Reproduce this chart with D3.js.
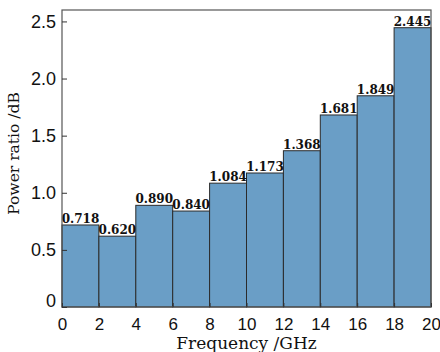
<!DOCTYPE html>
<html>
<head>
<meta charset="utf-8">
<script src="https://cdn.jsdelivr.net/npm/d3@7"></script>
<style>
  body { margin: 0; background: #fff; }
  svg { display: block; }
</style>
</head>
<body>
<svg id="chart" width="440" height="352"></svg>
<script>
const binStarts = [0, 2, 4, 6, 8, 10, 12, 14, 16, 18]
const binWidth = 2
const powerRatio = [0.718, 0.620, 0.890, 0.840, 1.084, 1.173, 1.368, 1.681, 1.849, 2.445]
const xTicks = [0, 2, 4, 6, 8, 10, 12, 14, 16, 18, 20]
const yTicks = [0, 0.5, 1.0, 1.5, 2.0, 2.5]

const data = binStarts.map((s, i) => ({ x0: s, x1: s + binWidth, v: powerRatio[i] }))

const margin = { top: 10, right: 9, bottom: 45, left: 62 }
const width = 440, height = 352
const svg = d3.select('#chart')
  .style('font-family', '"DejaVu Serif", "Liberation Serif", serif')

const x = d3.scaleLinear().domain([0, 20]).range([margin.left, width - margin.right])
const y = d3.scaleLinear().domain([0, 2.6]).range([height - margin.bottom, margin.top])

// bars
svg.append('g')
  .selectAll('rect')
  .data(data)
  .join('rect')
  .attr('x', d => x(d.x0))
  .attr('width', d => x(d.x1) - x(d.x0))
  .attr('y', d => y(d.v))
  .attr('height', d => y(0) - y(d.v))
  .attr('fill', '#6a9ec6')
  .attr('stroke', '#2b2b2b')
  .attr('stroke-width', 1)

// value labels
svg.append('g')
  .selectAll('text')
  .data(data)
  .join('text')
  .attr('x', d => (x(d.x0) + x(d.x1)) / 2)
  .attr('y', d => y(d.v) - 2)
  .attr('text-anchor', 'middle')
  .attr('font-size', 12)
  .attr('font-weight', 'bold')
  .attr('fill', '#111')
  .text(d => d3.format('.3f')(d.v))

// frame
svg.append('rect')
  .attr('x', x(0)).attr('y', y(2.6))
  .attr('width', x(20) - x(0)).attr('height', y(0) - y(2.6))
  .attr('fill', 'none').attr('stroke', '#555').attr('stroke-width', 1.2)

// x axis (inward ticks)
const xAxis = svg.append('g')
  .attr('transform', `translate(0,${y(0)})`)
  .call(d3.axisBottom(x).tickValues(xTicks).tickSizeInner(-4).tickSizeOuter(0).tickPadding(11).tickFormat(d3.format('d')))
xAxis.select('.domain').remove()
xAxis.selectAll('line').attr('stroke', '#333')
xAxis.selectAll('text').attr('font-size', 17).attr('fill', '#111').attr('font-family', null)

// y axis (inward ticks)
const yAxis = svg.append('g')
  .attr('transform', `translate(${x(0)},0)`)
  .call(d3.axisLeft(y).tickValues(yTicks).tickSizeInner(-5).tickSizeOuter(0).tickPadding(6)
    .tickFormat(d => d === 0 ? '0' : d3.format('.1f')(d)))
yAxis.select('.domain').remove()
yAxis.selectAll('line').attr('stroke', '#333')
yAxis.selectAll('text').attr('font-size', 18).attr('fill', '#111').attr('font-family', null)
yAxis.selectAll('.tick').filter(d => d === 0).select('text').attr('dy', '-0.05em')

// axis titles
svg.append('text')
  .attr('x', (x(0) + x(20)) / 2)
  .attr('y', height - 3)
  .attr('text-anchor', 'middle')
  .attr('font-size', 17)
  .attr('fill', '#111')
  .text('Frequency /GHz')

svg.append('text')
  .attr('transform', `translate(19,${(y(0) + y(2.6)) / 2 - 5}) rotate(-90)`)
  .attr('text-anchor', 'middle')
  .attr('font-size', 15.5)
  .attr('fill', '#111')
  .text('Power ratio /dB')
</script>
</body>
</html>
